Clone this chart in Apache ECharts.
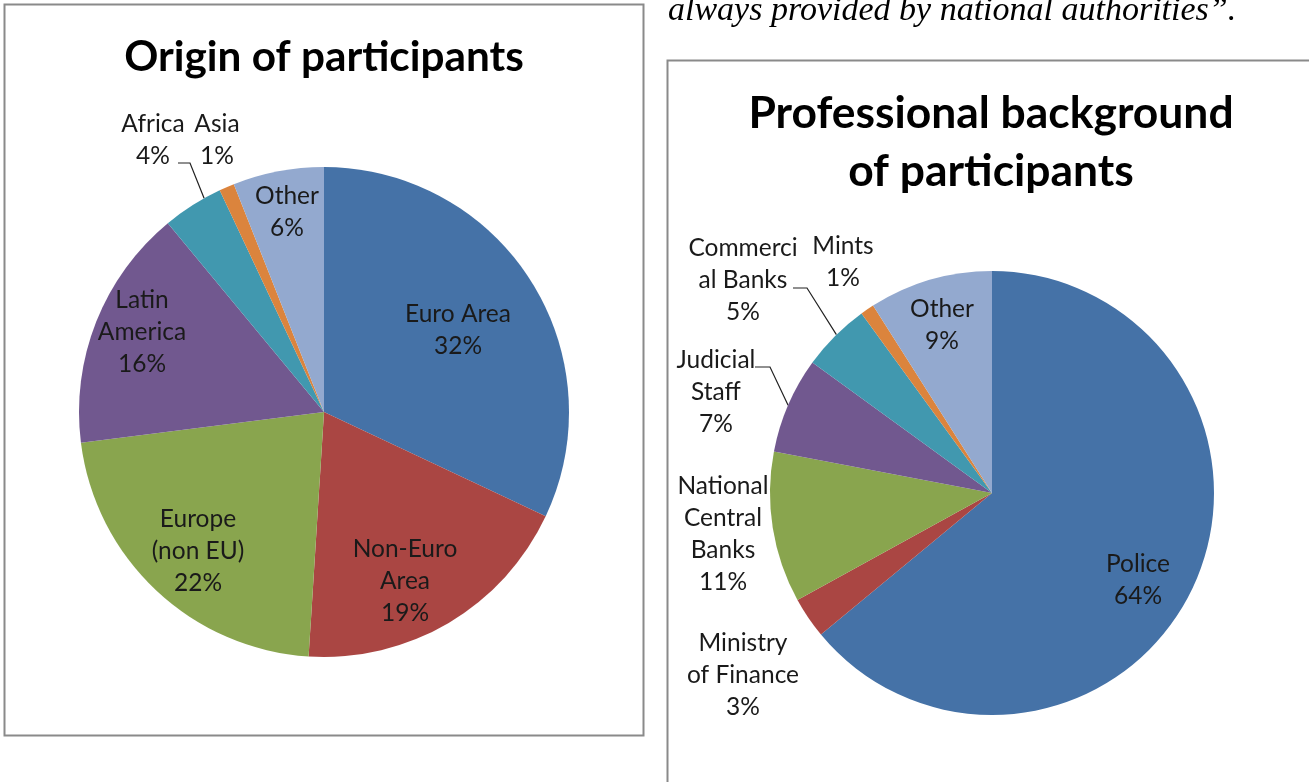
<!DOCTYPE html>
<html>
<head>
<meta charset="utf-8">
<script src="https://cdn.jsdelivr.net/npm/echarts@6/dist/echarts.min.js"></script>
<style>
  html, body { margin: 0; padding: 0; background: #ffffff; }
  #chart { width: 1309px; height: 782px; }
</style>
</head>
<body>
<div id="chart"></div>
<script>
// ---------- data ----------
const leftTitle = 'Origin of participants';
const leftCategories = ['Euro Area', 'Non-Euro Area', 'Europe (non EU)', 'Latin America', 'Africa', 'Asia', 'Other'];
const leftLabelText = ['Euro Area', 'Non-Euro\nArea', 'Europe\n(non EU)', 'Latin\nAmerica', 'Africa', 'Asia', 'Other'];
const leftValues = [32, 19, 22, 16, 4, 1, 6];

const rightTitle = 'Professional background\nof participants';
const rightCategories = ['Police', 'Ministry of Finance', 'National Central Banks', 'Judicial Staff', 'Commercial Banks', 'Mints', 'Other'];
const rightLabelText = ['Police', 'Ministry\nof Finance', 'National\nCentral\nBanks', 'Judicial\nStaff', 'Commerci\nal Banks', 'Mints', 'Other'];
const rightValues = [64, 3, 11, 7, 5, 1, 9];

const headerText = 'always provided by national authorities\u201d.';

// ---------- styles / layout ----------
const palette = ['#4572A7', '#AA4643', '#89A54E', '#71588F', '#4198AF', '#DB843D', '#93A9CF'];
const labelFont = 'Lato, "Open Sans", sans-serif';

const leftPie = { cx: 324, cy: 412, r: 245 };
const rightPie = { cx: 992, cy: 493, r: 222 };

// label centre offsets from pie centre (px)
const leftLabelOffsets = [[134, -82], [81, 169], [-126, 139], [-182, -80], [-171, -272], [-107, -272], [-37, -200]];
const rightLabelOffsets = [[146, 87], [-249, 182], [-269, 41], [-276, -101], [-249, -213], [-149, -231], [-50, -168]];
// leader lines: [elbow start, elbow end, angle on rim (deg clockwise from top)]
const leftLeaders = { 4: [[-146, -249], [-134, -249], 330.7] };
const rightLeaders = { 4: [[-199, -205], [-185, -205], 315.5], 3: [[-237, -126], [-222, -126], 293.3] };

function buildData(cats, vals, texts, leaders) {
  return cats.map((c, i) => ({
    name: c,
    value: vals[i],
    displayText: texts[i],
    itemStyle: { color: palette[i] },
    labelLine: { show: !!leaders[i] }
  }));
}

function makeLayout(pie, offsets, leaders) {
  return function (params) {
    const i = params.dataIndex;
    const o = offsets[i];
    const res = {
      x: pie.cx + o[0],
      y: pie.cy + o[1],
      align: 'center',
      verticalAlign: 'middle'
    };
    const L = leaders[i];
    if (L) {
      const a = L[2] * Math.PI / 180;
      res.labelLinePoints = [
        [pie.cx + L[0][0], pie.cy + L[0][1]],
        [pie.cx + L[1][0], pie.cy + L[1][1]],
        [pie.cx + pie.r * Math.sin(a), pie.cy - pie.r * Math.cos(a)]
      ];
    }
    return res;
  };
}

function pieSeries(pie, cats, vals, texts, offsets, leaders) {
  return {
    type: 'pie',
    center: [pie.cx, pie.cy],
    radius: pie.r,
    startAngle: 90,
    clockwise: true,
    avoidLabelOverlap: false,
    silent: true,
    animation: false,
    itemStyle: { borderWidth: 0 },
    label: {
      show: true,
      position: 'outside',
      formatter: p => p.data.displayText + '\n' + p.value + '%',
      fontFamily: labelFont,
      fontSize: 24.5,
      lineHeight: 32,
      color: '#1a1a1a',
      align: 'center'
    },
    labelLine: {
      show: false,
      lineStyle: { color: '#222', width: 1.2 }
    },
    labelLayout: makeLayout(pie, offsets, leaders),
    data: buildData(cats, vals, texts, leaders)
  };
}

const chart = echarts.init(document.getElementById('chart'), null, { renderer: 'canvas' });
chart.setOption({
  backgroundColor: '#ffffff',
  animation: false,
  title: [
    {
      text: leftTitle,
      left: 324, top: 36, textAlign: 'center', padding: 0,
      textStyle: { fontFamily: labelFont, fontWeight: 'bold', fontSize: 42.3, color: '#000' }
    },
    {
      text: rightTitle,
      left: 991, top: 85, textAlign: 'center', padding: 0,
      textStyle: { fontFamily: labelFont, fontWeight: 'bold', fontSize: 44.4, lineHeight: 58, color: '#000' }
    }
  ],
  graphic: [
    {
      type: 'rect', silent: true,
      shape: { x: 4.5, y: 4.5, width: 639, height: 731 },
      style: { fill: 'none', stroke: '#8a8a8a', lineWidth: 2 }
    },
    {
      type: 'rect', silent: true,
      shape: { x: 667.5, y: 60.5, width: 700, height: 800 },
      style: { fill: 'none', stroke: '#8a8a8a', lineWidth: 2 }
    },
    {
      type: 'text', silent: true,
      x: 668, y: 28,
      style: {
        text: headerText,
        font: 'italic 34px "Liberation Serif", "DejaVu Serif", serif',
        fill: '#000',
        verticalAlign: 'bottom'
      }
    }
  ],
  series: [
    pieSeries(leftPie, leftCategories, leftValues, leftLabelText, leftLabelOffsets, leftLeaders),
    pieSeries(rightPie, rightCategories, rightValues, rightLabelText, rightLabelOffsets, rightLeaders)
  ]
});
</script>
</body>
</html>
